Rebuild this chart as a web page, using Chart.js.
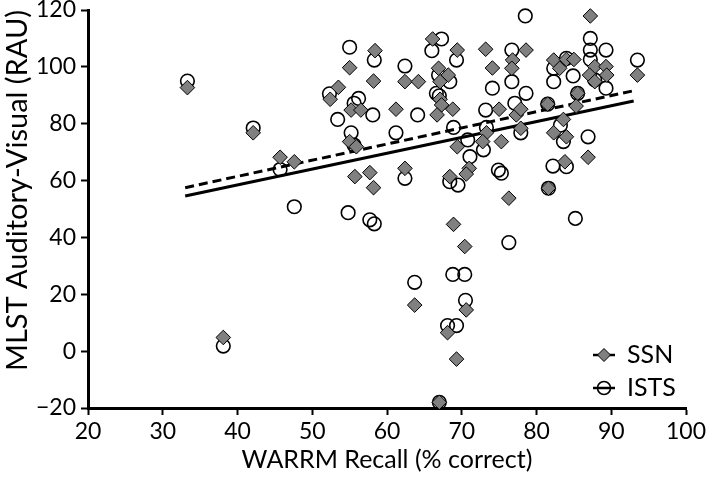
<!DOCTYPE html>
<html>
<head>
<meta charset="utf-8">
<script src="https://cdn.jsdelivr.net/npm/chart.js@4.4.1/dist/chart.umd.min.js"></script>
<style>
  html, body { margin: 0; padding: 0; background: #fff; }
  #wrap { width: 714px; height: 478px; }
</style>
</head>
<body>
<div id="wrap"><canvas id="scatter" width="714" height="478"></canvas></div>
<script>
// WARRM recall (% correct) vs MLST auditory-visual score (RAU)
const ssnRecall = [33.3, 38.1, 42.1, 45.7, 47.6, 52.4, 53.5, 55.0, 58.4, 58.2,
  55.2, 56.5, 55.0, 55.9, 55.7, 57.7, 58.2, 61.2, 62.4, 64.2,
  62.4, 63.7, 66.1, 69.4, 66.9, 68.2, 67.1, 67.1, 67.3, 68.8,
  66.7, 68.4, 71.0, 70.6, 69.4, 68.9, 70.4, 70.6, 68.1, 69.3,
  67.0, 73.2, 74.1, 76.8, 76.7, 75.0, 77.3, 73.3, 72.8, 75.3,
  76.3, 78.6, 77.9, 77.9, 82.3, 84.0, 85.0, 83.1, 87.2, 87.8,
  89.3, 87.1, 89.4, 87.8, 93.5, 85.5, 85.3, 81.5, 83.6, 82.3,
  84.0, 86.9, 83.8, 81.6];
const ssnAV = [92.7, 4.8, 76.8, 68.2, 66.6, 88.6, 92.8, 99.7, 105.7, 95.0,
  84.8, 84.8, 73.7, 71.9, 61.4, 62.8, 57.5, 85.1, 94.8, 94.8,
  64.3, 16.2, 109.8, 105.9, 99.5, 97.1, 94.8, 88.6, 86.6, 85.1,
  83.1, 61.4, 64.3, 62.3, 71.9, 44.6, 36.8, 14.5, 6.5, -2.8,
  -18.0, 106.2, 99.6, 102.4, 99.5, 85.1, 83.1, 76.8, 73.7, 73.7,
  53.8, 105.9, 85.1, 78.4, 102.4, 102.6, 102.6, 99.5, 117.9, 100.1,
  100.1, 97.1, 97.1, 94.8, 97.1, 90.7, 86.2, 86.9, 81.5, 76.8,
  75.4, 68.2, 66.6, 57.3];

const istsRecall = [33.3, 38.1, 42.1, 45.7, 47.6, 52.3, 53.4, 55.0, 58.3, 62.4,
  67.3, 66.0, 69.3, 66.9, 68.4, 66.6, 67.0, 68.9, 56.2, 55.6,
  58.1, 64.1, 55.2, 61.2, 55.6, 62.4, 68.4, 69.5, 71.1, 70.8,
  54.8, 57.7, 58.3, 63.7, 68.8, 70.4, 70.5, 68.1, 69.3, 67.0,
  76.3, 76.7, 76.7, 74.1, 73.2, 77.1, 73.3, 72.9, 74.9, 75.3,
  78.5, 78.6, 77.9, 82.3, 82.3, 84.0, 84.9, 87.2, 87.2, 89.3,
  87.2, 87.8, 89.3, 93.5, 85.5, 81.5, 83.2, 83.6, 86.9, 82.2,
  84.0, 81.6, 85.2];
const istsAV = [95.0, 1.8, 78.5, 63.9, 50.8, 90.5, 81.5, 106.9, 102.4, 100.3,
  109.8, 105.7, 102.4, 97.1, 94.8, 90.7, 89.8, 78.7, 88.9, 87.2,
  83.1, 83.1, 76.8, 76.8, 72.5, 60.8, 59.6, 58.4, 68.4, 74.3,
  48.7, 46.2, 44.8, 24.2, 27.0, 27.0, 17.9, 9.0, 9.0, -18.0,
  38.2, 105.9, 94.8, 92.5, 84.8, 87.2, 78.7, 70.8, 63.7, 62.6,
  117.9, 90.7, 76.8, 99.5, 94.8, 103.0, 96.8, 110.0, 105.9, 105.9,
  102.6, 95.4, 92.5, 102.4, 90.7, 86.9, 79.5, 73.7, 75.4, 65.1,
  64.9, 57.3, 46.7];

// regression lines, read at their two ends
const fitRecall = [33, 93];
const ssnFit = [57.5, 91.6];
const istsFit = [54.6, 88.0];

const seriesNames = ['SSN', 'ISTS'];

const FONT = 'Lato, "Open Sans", sans-serif';

function toPoints(xs, ys) {
  return xs.map((x, i) => ({ x: x, y: ys[i] }));
}

// legend drawn as line + marker samples, like the original figure
const sampleLegend = {
  id: 'sampleLegend',
  afterDraw(chart) {
    const ctx = chart.ctx;
    const rows = [
      { label: seriesNames[0], y: 355, dash: true },
      { label: seriesNames[1], y: 388, dash: false }
    ];
    ctx.save();
    rows.forEach(r => {
      const cx = 604;
      ctx.strokeStyle = '#000';
      ctx.lineWidth = 2.5;
      ctx.setLineDash([]);
      ctx.beginPath();
      ctx.moveTo(cx - 11, r.y);
      ctx.lineTo(cx + 11, r.y);
      ctx.stroke();
      ctx.lineWidth = 1;
      ctx.beginPath();
      if (r.dash) {
        ctx.moveTo(cx - 6.5, r.y);
        ctx.lineTo(cx, r.y - 6.5);
        ctx.lineTo(cx + 6.5, r.y);
        ctx.lineTo(cx, r.y + 6.5);
        ctx.closePath();
        ctx.fillStyle = '#808080';
        ctx.fill();
        ctx.stroke();
      } else {
        ctx.lineWidth = 1.6;
        ctx.arc(cx, r.y, 6.5, 0, Math.PI * 2);
        ctx.stroke();
      }
      ctx.fillStyle = '#000';
      ctx.font = '25px ' + FONT;
      ctx.textBaseline = 'middle';
      ctx.textAlign = 'left';
      ctx.fillText(r.label, 627, r.y);
    });
    ctx.restore();
  }
};

const canvas = document.getElementById('scatter');

new Chart(canvas, {
  type: 'scatter',
  data: {
    datasets: [
      {
        label: seriesNames[0],
        data: toPoints(ssnRecall, ssnAV),
        pointStyle: 'rectRot',
        pointRadius: 7.3,
        backgroundColor: '#808080',
        borderColor: '#000',
        borderWidth: 1,
        clip: false,
        order: 0
      },
      {
        label: seriesNames[1],
        data: toPoints(istsRecall, istsAV),
        pointStyle: 'circle',
        pointRadius: 6.8,
        backgroundColor: 'rgba(255,255,255,0)',
        borderColor: '#000',
        borderWidth: 1.6,
        clip: false,
        order: 1
      },
      {
        type: 'line',
        label: seriesNames[0] + ' fit',
        data: toPoints(fitRecall, ssnFit),
        borderColor: '#000',
        borderWidth: 3,
        borderDash: [9, 5],
        pointRadius: 0,
        fill: false,
        order: 2
      },
      {
        type: 'line',
        label: seriesNames[1] + ' fit',
        data: toPoints(fitRecall, istsFit),
        borderColor: '#000',
        borderWidth: 3,
        pointRadius: 0,
        fill: false,
        order: 3
      }
    ]
  },
  options: {
    responsive: false,
    animation: false,
    layout: { padding: { top: 10, right: 28, left: 0, bottom: 0 } },
    plugins: {
      legend: { display: false },
      tooltip: { enabled: false }
    },
    scales: {
      x: {
        type: 'linear',
        min: 20,
        max: 100,
        ticks: { stepSize: 10, color: '#000', font: { family: FONT, size: 23 }, padding: 3, maxRotation: 0 },
        grid: { drawOnChartArea: false, drawTicks: true, tickLength: 7, tickColor: '#000', tickWidth: 2 },
        border: { color: '#000', width: 3 },
        title: { display: true, text: 'WARRM Recall (% correct)', color: '#000', font: { family: FONT, size: 25 }, padding: { top: 0, bottom: 3 } },
        afterFit(s) { s.height = 70; }
      },
      y: {
        type: 'linear',
        min: -20,
        max: 120,
        ticks: {
          stepSize: 20, color: '#000', font: { family: FONT, size: 23 }, padding: 5,
          callback: v => (v < 0 ? '\u2212' + Math.abs(v) : v)
        },
        grid: { drawOnChartArea: false, drawTicks: true, tickLength: 7, tickColor: '#000', tickWidth: 2 },
        border: { color: '#000', width: 3 },
        title: { display: true, text: 'MLST Auditory-Visual (RAU)', color: '#000', font: { family: FONT, size: 29 }, padding: 0, align: 'end' },
        afterFit(s) { s.width = 88; s.paddingTop = 0; s.paddingBottom = 0; }
      }
    }
  },
  plugins: [sampleLegend]
});
</script>
</body>
</html>
